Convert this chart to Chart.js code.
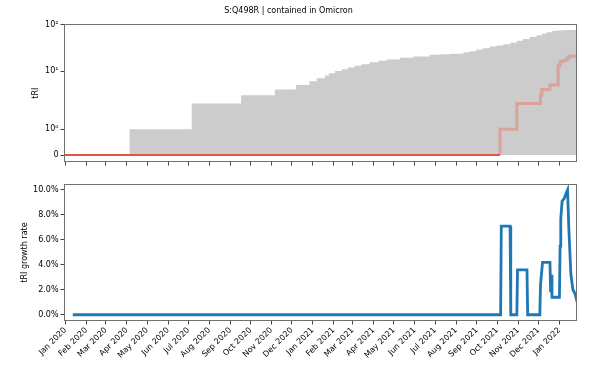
<!DOCTYPE html>
<html>
<head>
<meta charset="utf-8">
<script src="https://cdn.jsdelivr.net/npm/chart.js@4.4.1/dist/chart.umd.min.js"></script>
<style>
  html, body { margin: 0; padding: 0; background: #fff; }
  #wrap { position: relative; width: 599px; height: 379px; }
  .panel { position: absolute; left: 0; width: 599px; }
  #panel-tri { top: 0; height: 170px; }
  #panel-growth { top: 170px; height: 209px; }
</style>
</head>
<body>
<div id="wrap">
  <div class="panel" id="panel-tri"><canvas id="chart-tri"></canvas></div>
  <div class="panel" id="panel-growth"><canvas id="chart-growth"></canvas></div>
</div>
<script>
// ─── S:Q498R tRI — two stacked panels ────────────────────────────────────────
// x values are days since 1 Jan 2020

const monthLabels = [
  "Jan 2020", "Feb 2020", "Mar 2020", "Apr 2020", "May 2020", "Jun 2020",
  "Jul 2020", "Aug 2020", "Sep 2020", "Oct 2020", "Nov 2020", "Dec 2020",
  "Jan 2021", "Feb 2021", "Mar 2021", "Apr 2021", "May 2021", "Jun 2021",
  "Jul 2021", "Aug 2021", "Sep 2021", "Oct 2021", "Nov 2021", "Dec 2021",
  "Jan 2022",
];

// total tRI (grey area)
const totalDays = [-2, 95, 187, 260, 310, 341, 361, 372, 384, 390, 399, 409, 418, 428, 438, 450,
  463, 475, 495, 515, 539, 555, 569, 589, 598, 608, 618, 628, 638, 648, 658, 668, 677, 687,
  697, 705, 712, 720, 727, 735, 742, 757];
const totalTRI = [0, 1, 2, 3, 4, 5, 6, 7, 8, 9, 10, 11, 12, 13, 14, 15.5,
  16.7, 17.8, 19.4, 20.7, 22.5, 23, 23.6, 25.6, 26.9, 29.2, 31, 33.7, 35.5, 38, 41, 45, 49, 54,
  59, 64, 69, 73, 75, 76, 76.5, 76.5];

// tRI contained in Omicron (red line)
const omicronDays = [-2, 643, 643, 668, 703, 705, 717, 729, 732, 736, 742, 745, 757];
const omicronTRI = [0, 0, 1, 2, 3, 4, 5, 13, 16, 17, 19, 21, 21];

// tRI growth rate, percent (blue line)
const growthDays = [11, 644, 645, 658, 659, 668, 669, 683, 684, 702, 703, 706, 717, 718, 719, 720,
  731, 732, 733, 735, 738, 741, 743, 745, 748, 751, 754, 757];
const growthRate = [0, 0, 7.1, 7.1, 0, 0, 3.6, 3.6, 0, 0, 2.4, 4.2, 4.2, 1.8, 3.2, 1.4,
  1.4, 5.5, 7.7, 9.1, 9.3, 9.75, 10.0, 6.8, 3.2, 2.0, 1.7, 1.05];

const triTicks = [0, 1, 10, 100];
const triTickLabels = ["0", "10\u2070", "10\u00b9", "10\u00b2"];
const growthTicks = [0, 2, 4, 6, 8, 10];

const MONTHS = ["Jan", "Feb", "Mar", "Apr", "May", "Jun", "Jul", "Aug", "Sep", "Oct", "Nov", "Dec"];
const monthDays = monthLabels.map(l => {
  const [m, y] = l.split(" ");
  return (Date.UTC(+y, MONTHS.indexOf(m), 1) - Date.UTC(2020, 0, 1)) / 86400000;
});

// symlog scale, same transform as matplotlib (base 10, linthresh 2, linscale 1)
const LINTHRESH = 2;
const LINSCALE_ADJ = 1 / (1 - 1 / 10);
function symlog(v) {
  const a = Math.abs(v);
  if (a <= LINTHRESH) return v * LINSCALE_ADJ;
  return Math.sign(v) * LINTHRESH * (LINSCALE_ADJ + Math.log10(a / LINTHRESH));
}
function symexp(t) {
  const a = Math.abs(t);
  if (a <= LINTHRESH * LINSCALE_ADJ) return t / LINSCALE_ADJ;
  return Math.sign(t) * LINTHRESH * Math.pow(10, a / LINTHRESH - LINSCALE_ADJ);
}

class SymlogScale extends Chart.LinearScale {
  static id = "symlog";
  static defaults = {};
  buildTicks() {
    return triTicks.map(v => ({ value: v }));
  }
  configure() {
    super.configure();
    this._tmin = symlog(this.min);
    this._tmax = symlog(this.max);
  }
  getPixelForValue(value) {
    return this.getPixelForDecimal((symlog(value) - this._tmin) / (this._tmax - this._tmin));
  }
  getValueForPixel(pixel) {
    return symexp(this._tmin + this.getDecimalForPixel(pixel) * (this._tmax - this._tmin));
  }
}
Chart.register(SymlogScale);

Chart.defaults.font.family = "'DejaVu Sans', sans-serif";
Chart.defaults.font.size = 8;
Chart.defaults.color = "#000";

const frame = {
  id: "frame",
  afterDraw(chart) {
    const { ctx, chartArea: a } = chart;
    ctx.save();
    ctx.strokeStyle = "#707070";
    ctx.lineWidth = 1;
    ctx.strokeRect(Math.round(a.left) + 0.5, Math.round(a.top) + 0.5,
      Math.round(a.width) - 1, Math.round(a.height) - 1);
    ctx.restore();
  },
};

const tickGrid = { drawOnChartArea: false, drawTicks: true, tickLength: 3.5, color: "#444" };
const monthTicksHook = scale => { scale.ticks = monthDays.map(v => ({ value: v })); };

const xy = (xs, ys) => xs.map((x, i) => ({ x, y: ys[i] }));

new Chart(document.getElementById("chart-tri"), {
  type: "line",
  data: {
    datasets: [
      {
        data: xy(omicronDays, omicronTRI),
        stepped: true,
        pointRadius: 0,
        borderWidth: 3,
        borderColor: "rgba(232,110,95,0.45)",
        segment: {
          borderColor: c => (c.p0.parsed.y === 0 && c.p1.parsed.y === 0 ? "#e2553f" : undefined),
          borderWidth: c => (c.p0.parsed.y === 0 && c.p1.parsed.y === 0 ? 2 : undefined),
        },
      },
      {
        data: xy(totalDays, totalTRI),
        stepped: true,
        pointRadius: 0,
        borderWidth: 0,
        borderColor: "transparent",
        backgroundColor: "#cccccc",
        fill: { value: 0 },
      },
    ],
  },
  options: {
    responsive: true,
    maintainAspectRatio: false,
    animation: false,
    events: [],
    layout: { padding: { left: 0, right: 22, top: 0, bottom: 0 } },
    plugins: {
      legend: { display: false },
      tooltip: { enabled: false },
      title: {
        display: true,
        text: "S:Q498R | contained in Omicron",
        font: { size: 8, weight: "normal" },
        color: "#000",
        padding: { top: 6, bottom: 8.7 },
      },
    },
    scales: {
      x: {
        type: "linear",
        min: -2,
        max: 757,
        afterBuildTicks: monthTicksHook,
        afterFit: s => { s.height = 8; },
        grid: tickGrid,
        border: { display: false },
        ticks: { display: false },
      },
      y: {
        type: "symlog",
        min: -0.27,
        max: 102,
        afterFit: s => { s.width = 64; },
        grid: tickGrid,
        border: { display: false },
        ticks: { padding: 2, callback: (v, i) => triTickLabels[i] },
        title: { display: true, text: "tRI", padding: { top: 31, bottom: 0 } },
      },
    },
  },
  plugins: [frame],
});

new Chart(document.getElementById("chart-growth"), {
  type: "line",
  data: {
    datasets: [
      {
        data: xy(growthDays, growthRate),
        pointRadius: 0,
        borderWidth: 2.8,
        borderColor: "#1f77b4",
        fill: false,
      },
    ],
  },
  options: {
    responsive: true,
    maintainAspectRatio: false,
    animation: false,
    events: [],
    layout: { padding: { left: 0, right: 22, top: 14, bottom: 0 } },
    plugins: { legend: { display: false }, tooltip: { enabled: false } },
    scales: {
      x: {
        type: "linear",
        min: -2,
        max: 757,
        afterBuildTicks: monthTicksHook,
        afterFit: s => { s.height = 58; },
        grid: tickGrid,
        border: { display: false },
        ticks: {
          autoSkip: false,
          maxRotation: 45,
          minRotation: 45,
          padding: 1,
          callback: (v, i) => monthLabels[i],
        },
      },
      y: {
        type: "linear",
        min: -0.5,
        max: 10.47,
        afterBuildTicks: s => { s.ticks = growthTicks.map(v => ({ value: v })); },
        afterFit: s => { s.width = 64; },
        grid: tickGrid,
        border: { display: false },
        ticks: { padding: 2, callback: v => v.toFixed(1) + "%" },
        title: { display: true, text: "tRI growth rate", padding: { top: 20, bottom: 0 } },
      },
    },
  },
  plugins: [frame],
});
</script>
</body>
</html>
